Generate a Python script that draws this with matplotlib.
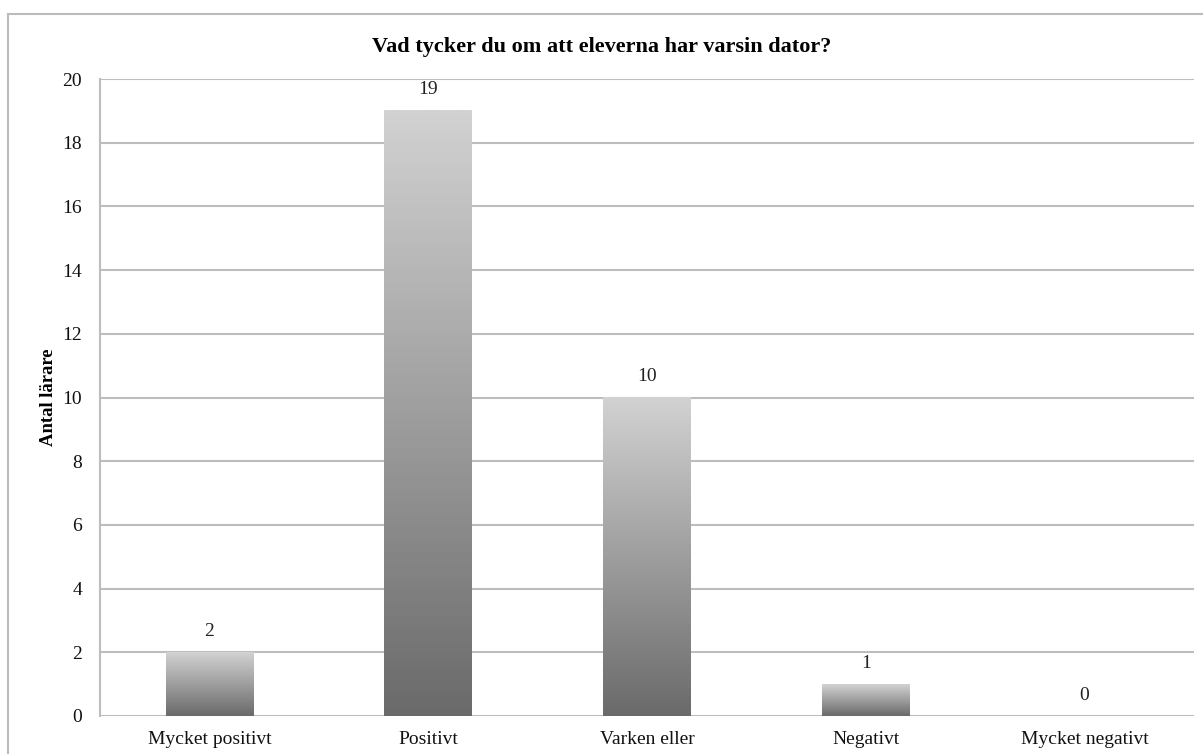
import numpy as np
import matplotlib
matplotlib.use("Agg")
import matplotlib.pyplot as plt
from matplotlib.colors import LinearSegmentedColormap

categories = ["Mycket positivt", "Positivt", "Varken eller", "Negativt", "Mycket negativt"]
values = [2, 19, 10, 1, 0]
yticks = [0, 2, 4, 6, 8, 10, 12, 14, 16, 18, 20]
title = "Vad tycker du om att eleverna har varsin dator?"
ylabel = "Antal lärare"

plt.rcParams['font.family'] = ['Liberation Serif', 'DejaVu Serif']

fig = plt.figure(figsize=(12.03, 7.54), dpi=100)
ax = fig.add_axes([100/1203, 1-716/754, (1194-100)/1203, (716-79)/754])

x = np.arange(len(categories))
bars = ax.bar(x, values, width=0.4, color='none', edgecolor='none', zorder=3)
cmap = LinearSegmentedColormap.from_list('g', ['#6a6a6a', '#d2d2d2'])
grad = np.linspace(0, 1, 256).reshape(-1, 1)
for b in bars:
    h = b.get_height()
    if h <= 0:
        continue
    x0 = b.get_x(); w = b.get_width()
    ax.imshow(grad, cmap=cmap, origin='lower', aspect='auto',
              extent=(x0, x0 + w, 0, h), zorder=3)
for xi, v in zip(x, values):
    ax.annotate(str(v), (xi, v), xytext=(0, 9), textcoords='offset points',
                ha='center', va='bottom', fontsize=14, color='#222222')

ax.set_xlim(-0.5, len(categories) - 0.5)
ax.set_ylim(0, 20)
ax.set_yticks(yticks)
ax.set_xticks(x)
ax.set_xticklabels(categories)
ax.tick_params(axis='both', length=0, labelsize=14, colors='#111111')
ax.tick_params(axis='y', pad=13)
ax.tick_params(axis='x', pad=11)
ax.yaxis.grid(True, color='#bdbdbd', linewidth=1.5, zorder=0)
ax.set_axisbelow(True)
for s in ['top', 'right', 'bottom']:
    ax.spines[s].set_visible(False)
ax.spines['left'].set_color('#bdbdbd')
ax.spines['left'].set_linewidth(1.5)

ax.set_ylabel(ylabel, fontsize=13.4, fontweight='bold', labelpad=3.5)
fig.text(0.5, 1 - 47/754, title, ha='center', va='center',
         fontsize=16, fontweight='bold')

# outer chart frame
fig.add_artist(plt.Line2D([8/1203, 8/1203], [0, 1 - 14/754], transform=fig.transFigure,
                          color='#bbbbbb', linewidth=1.5))
fig.add_artist(plt.Line2D([8/1203, 1], [1 - 14/754, 1 - 14/754], transform=fig.transFigure,
                          color='#bbbbbb', linewidth=1.5))

fig.savefig("out.png", dpi=100)
